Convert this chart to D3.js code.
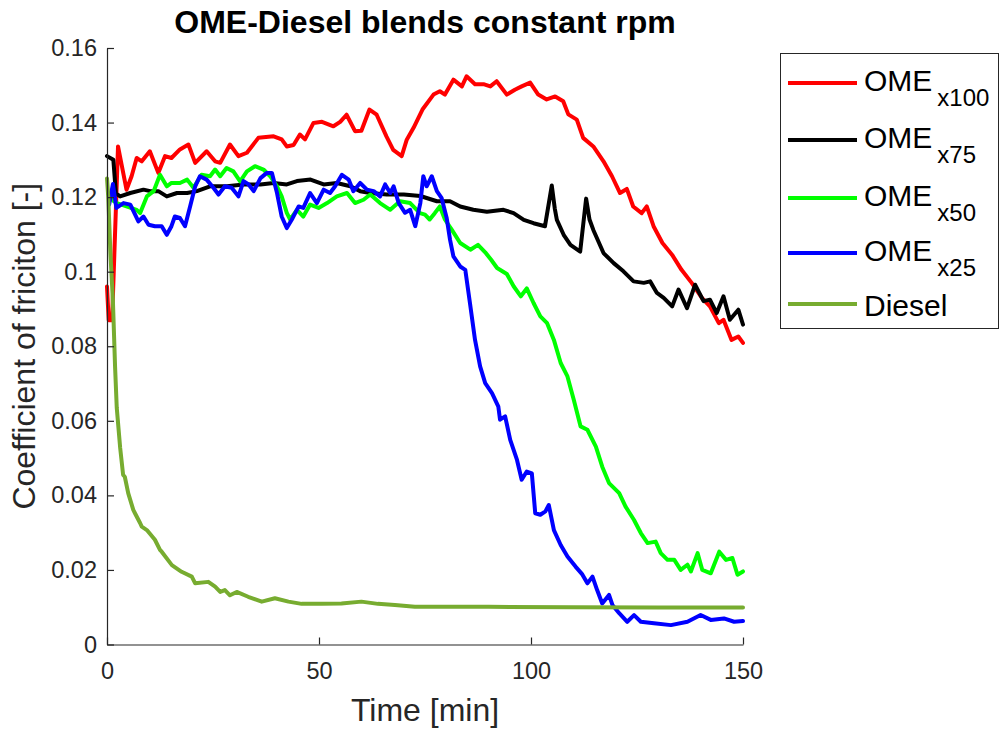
<!DOCTYPE html>
<html>
<head>
<meta charset="utf-8">
<script src="https://cdn.jsdelivr.net/npm/d3@7"></script>
<style>
  html, body { margin: 0; padding: 0; background: #fff; }
  svg { display: block; font-family: "Liberation Sans", Arial, Helvetica, sans-serif; }
</style>
</head>
<body>
<svg id="chart" width="1000" height="729"></svg>
<script>
// Coefficient of friction over time, [minutes, COF] pairs per blend
const ome100 = [[0,0.096],[0.4,0.087],[1.2,0.087],[2.6,0.1336],[4.6,0.122],[5.8,0.1256],[7.0,0.1305],[8.2,0.1296],[10.1,0.1323],[12.1,0.1265],[13.7,0.131],[15.2,0.1305],[17.2,0.1328],[19.2,0.1341],[20.8,0.1292],[23.5,0.1323],[25.5,0.1296],[26.7,0.1292],[29.0,0.1341],[31.0,0.131],[33.0,0.1319],[35.7,0.1359],[39.3,0.1363],[41.2,0.1355],[42.4,0.1336],[44.0,0.134],[45.5,0.1368],[46.7,0.1355],[48.7,0.1399],[50.7,0.1402],[53.4,0.139],[55.0,0.1402],[56.5,0.1421],[58.5,0.1377],[60.0,0.1378],[61.9,0.1435],[63.6,0.1421],[65.9,0.1363],[67.5,0.1327],[69.5,0.131],[70.7,0.1354],[72.3,0.1386],[74.4,0.1435],[77.0,0.1475],[78.5,0.1484],[79.7,0.1475],[81.7,0.1515],[83.7,0.1497],[84.8,0.1524],[86.8,0.1503],[88.8,0.1503],[90.4,0.1497],[91.9,0.1511],[94.3,0.1475],[96.2,0.1488],[97.8,0.1497],[99.8,0.1507],[101.7,0.1475],[103.7,0.1462],[105.7,0.147],[107.6,0.1457],[108.8,0.1422],[110.8,0.1408],[112.3,0.1359],[114.7,0.1336],[117.1,0.1296],[119.1,0.1256],[121.0,0.1211],[122.6,0.1222],[124.1,0.1175],[126.1,0.1157],[127.3,0.1175],[128.9,0.1122],[131.0,0.1077],[133.3,0.1045],[135.5,0.1005],[137.9,0.097],[140.3,0.093],[142.2,0.0907],[144.3,0.0862],[145.4,0.0871],[147.3,0.0817],[148.9,0.0826],[150,0.0809]];

const ome75 = [[0,0.131],[1.5,0.130],[2.1,0.121],[3.1,0.1202],[5.5,0.1211],[8.6,0.122],[10.2,0.1216],[12.1,0.1216],[14.1,0.1202],[16.5,0.1211],[18.9,0.1211],[21.2,0.1216],[24.3,0.1229],[28.3,0.1229],[32.2,0.1234],[36.2,0.1234],[39.3,0.1238],[42.4,0.1234],[44.8,0.1243],[48.0,0.1247],[51.1,0.1234],[54.2,0.1238],[57.4,0.1229],[59.7,0.1216],[62.1,0.1211],[66.0,0.1207],[70.0,0.1207],[73.9,0.1203],[77.8,0.1189],[80.9,0.1189],[83.3,0.1175],[86.4,0.1166],[89.6,0.1161],[93.5,0.1166],[95.9,0.1157],[98.3,0.1139],[100.6,0.113],[103.3,0.1122],[104.9,0.1231],[105.6,0.117],[106.1,0.1139],[107.7,0.1099],[109.3,0.1072],[111.6,0.1054],[113.0,0.1196],[113.8,0.114],[114.7,0.1112],[117.1,0.105],[119.5,0.1023],[121.8,0.1001],[124.2,0.0974],[126.6,0.097],[128.1,0.0974],[129.7,0.0943],[131.3,0.093],[133.3,0.0907],[134.8,0.0952],[136.8,0.0902],[138.7,0.0965],[140.7,0.0921],[142.2,0.0925],[143.8,0.0889],[145.4,0.0934],[146.9,0.0871],[148.9,0.0898],[150,0.0858]];

const ome50 = [[0.3,0.121],[1.5,0.119],[2.3,0.1184],[4.6,0.1175],[7.0,0.1166],[7.8,0.1157],[9.4,0.1202],[11.0,0.1216],[12.5,0.126],[14.1,0.1229],[15.2,0.1238],[17.2,0.1238],[18.9,0.1247],[20.4,0.1225],[22.3,0.126],[24.3,0.1256],[25.5,0.1274],[26.7,0.1256],[28.2,0.1278],[29.8,0.1269],[31.4,0.1242],[33.0,0.1269],[34.9,0.1283],[36.9,0.1274],[38.5,0.1256],[40.1,0.1229],[41.2,0.1202],[42.4,0.1158],[43.2,0.114],[44.8,0.1166],[46.3,0.1148],[47.9,0.118],[49.9,0.1171],[51.9,0.1184],[54.2,0.1202],[56.6,0.1211],[58.5,0.1184],[60.5,0.1193],[62.1,0.1207],[64.4,0.1184],[66.8,0.1166],[69.1,0.1189],[71.5,0.1184],[73.8,0.1157],[75.0,0.1153],[76.1,0.114],[77.3,0.1157],[78.5,0.1175],[79.7,0.114],[81.3,0.1113],[83.3,0.1077],[85.7,0.1059],[87.5,0.1072],[89.2,0.1052],[90.6,0.1032],[92.0,0.101],[94.3,0.0994],[95.9,0.0961],[97.6,0.0934],[99.0,0.0955],[100.6,0.0916],[102.2,0.088],[103.8,0.0862],[105.4,0.0817],[107.0,0.0755],[108.6,0.0719],[110.1,0.0656],[111.7,0.0585],[113.3,0.0576],[115.3,0.0531],[116.8,0.0477],[118.4,0.0433],[120.8,0.0406],[122.3,0.037],[124.3,0.0334],[125.9,0.0299],[127.5,0.0272],[129.4,0.0276],[130.6,0.0245],[132.2,0.0227],[133.8,0.0227],[135.3,0.02],[136.9,0.0214],[137.7,0.0196],[139.3,0.0245],[140.4,0.02],[142.4,0.0191],[144.4,0.0249],[146.0,0.0227],[147.5,0.0232],[148.7,0.0187],[150,0.0196]];

const ome25 = [[0.5,0.118],[1.4,0.1235],[2.2,0.1171],[3.9,0.1184],[5.5,0.118],[7.4,0.1135],[8.6,0.1148],[9.8,0.1126],[11.3,0.1122],[12.9,0.1122],[14.1,0.1099],[15.2,0.1122],[16.0,0.1148],[17.2,0.1144],[18.4,0.1122],[19.6,0.1175],[20.8,0.1229],[21.9,0.1256],[23.5,0.1247],[25.1,0.1225],[26.3,0.1207],[27.8,0.1229],[29.4,0.1225],[31.0,0.1202],[32.2,0.1243],[33.4,0.1234],[34.6,0.1216],[36.2,0.1251],[37.7,0.1265],[38.9,0.1265],[40.1,0.1211],[41.2,0.1148],[42.4,0.1117],[43.6,0.114],[45.2,0.1175],[46.3,0.1171],[47.9,0.1211],[49.5,0.1184],[51.1,0.122],[52.6,0.1211],[53.8,0.1229],[55.4,0.126],[57.0,0.1247],[58.1,0.1216],[59.7,0.1238],[61.3,0.122],[62.9,0.1216],[64.4,0.1202],[65.6,0.1234],[66.8,0.1211],[67.6,0.1229],[68.8,0.1184],[70.3,0.1158],[71.5,0.1166],[72.7,0.1122],[73.9,0.1184],[74.6,0.1256],[75.4,0.1229],[76.6,0.1256],[77.8,0.1216],[78.9,0.1198],[80.1,0.1145],[80.9,0.1086],[81.7,0.1041],[83.3,0.1014],[84.5,0.1005],[85.6,0.0916],[86.8,0.0817],[88.0,0.0746],[89.2,0.0701],[90.8,0.0674],[92.3,0.0638],[92.7,0.0603],[93.9,0.0612],[95.1,0.0549],[96.7,0.0495],[97.8,0.0442],[99.0,0.0464],[100.2,0.0459],[101.0,0.0352],[102.2,0.0348],[103.4,0.0357],[104.2,0.0374],[105.4,0.0307],[107.0,0.0267],[108.6,0.0236],[110.5,0.0209],[112.1,0.0188],[113.3,0.0164],[114.5,0.0182],[115.6,0.0146],[116.8,0.011],[118.4,0.0133],[119.2,0.0106],[120.8,0.0084],[122.7,0.0061],[124.3,0.0079],[125.9,0.0061],[129.0,0.0057],[133.0,0.0052],[136.9,0.0061],[140.0,0.0079],[142.4,0.0066],[145.5,0.007],[147.9,0.0061],[150,0.0063]];

const diesel = [[0,0.125],[0.3,0.12],[0.8,0.105],[1.4,0.092],[1.9,0.0746],[2.3,0.0635],[3.1,0.0528],[3.8,0.0455],[4.2,0.045],[5.0,0.0406],[6.2,0.0361],[6.6,0.0352],[7.8,0.0326],[8.2,0.0316],[9.4,0.0307],[11.3,0.0281],[12.5,0.0254],[12.9,0.0249],[15.3,0.0213],[17.6,0.0195],[20.0,0.0182],[20.8,0.0164],[23.9,0.0168],[25.5,0.0155],[26.7,0.0141],[27.8,0.0146],[29.0,0.0132],[30.6,0.0141],[33.3,0.0128],[36.5,0.0115],[39.6,0.0124],[42.8,0.0115],[45.9,0.0109],[50.6,0.0109],[55.3,0.011],[60.0,0.0115],[63.9,0.0109],[67.9,0.0106],[72.6,0.0101],[90,0.0101],[110,0.0100],[130,0.0099],[150,0.0099]];

// Legend labels: main text + subscript
const seriesNames = ["OME", "OME", "OME", "OME", "Diesel"];
const seriesSubs = ["x100", "x75", "x50", "x25", ""];
const seriesColors = ["#ff0000", "#000000", "#00ff00", "#0000ff", "#77ac30"];
const seriesData = [ome100, ome75, ome50, ome25, diesel];

const xTicks = [0, 50, 100, 150];
const yTicks = [0, 0.02, 0.04, 0.06, 0.08, 0.1, 0.12, 0.14, 0.16];
const yTickLabels = ["0", "0.02", "0.04", "0.06", "0.08", "0.1", "0.12", "0.14", "0.16"];

const titleText = "OME-Diesel blends constant rpm";
const xLabelText = "Time [min]";
const yLabelText = "Coefficient of friciton [-]";

const svg = d3.select("#chart");
const axisColor = "#262626";

const x = d3.scaleLinear().domain([0, 150]).range([107, 743]);
const y = d3.scaleLinear().domain([0, 0.16]).range([644.5, 48]);

// Series lines
const line = d3.line().x(d => x(d[0])).y(d => y(d[1]));
svg.append("g").selectAll("path")
  .data(seriesData)
  .join("path")
  .attr("d", line)
  .attr("fill", "none")
  .attr("stroke", (d, i) => seriesColors[i])
  .attr("stroke-width", 4)
  .attr("stroke-linejoin", "round")
  .attr("stroke-linecap", "round");

// Axes
const xAxis = d3.axisBottom(x)
  .tickValues(xTicks)
  .tickFormat(d3.format("d"))
  .tickSizeInner(-7)
  .tickSizeOuter(0)
  .tickPadding(18);
const gx = svg.append("g").attr("transform", `translate(0,${y(0)})`).call(xAxis);

const yAxis = d3.axisLeft(y)
  .tickValues(yTicks)
  .tickFormat((d, i) => yTickLabels[i])
  .tickSizeInner(-7)
  .tickSizeOuter(0)
  .tickPadding(10);
const gy = svg.append("g").attr("transform", `translate(${x(0)},0)`).call(yAxis);

[gx, gy].forEach(g => {
  g.select(".domain").attr("stroke", axisColor).attr("stroke-width", 1.2);
  g.selectAll(".tick line").attr("stroke", axisColor).attr("stroke-width", 1.2);
  g.selectAll(".tick text")
    .attr("fill", axisColor)
    .style("font-size", "23.5px")
    .style("font-family", "'Liberation Sans', Arial, Helvetica, sans-serif");
});

// Title
svg.append("text")
  .attr("x", (x.range()[0] + x.range()[1]) / 2)
  .attr("y", 33)
  .attr("text-anchor", "middle")
  .attr("font-weight", "bold")
  .attr("font-size", 32)
  .attr("fill", "#000")
  .text(titleText);

// Axis labels
svg.append("text")
  .attr("x", (x.range()[0] + x.range()[1]) / 2)
  .attr("y", 721)
  .attr("text-anchor", "middle")
  .attr("font-size", 32)
  .attr("fill", axisColor)
  .text(xLabelText);

svg.append("text")
  .attr("transform", `translate(35,${(y.range()[0] + y.range()[1]) / 2}) rotate(-90)`)
  .attr("text-anchor", "middle")
  .attr("font-size", 32)
  .attr("fill", axisColor)
  .text(yLabelText);

// Legend
const legend = svg.append("g");
legend.append("rect")
  .attr("x", 780.5).attr("y", 53.5)
  .attr("width", 218).attr("height", 275)
  .attr("fill", "#fff")
  .attr("stroke", axisColor)
  .attr("stroke-width", 1);

const rowY = [83, 140, 198, 253, 304];
seriesNames.forEach((name, i) => {
  const g = legend.append("g");
  g.append("line")
    .attr("x1", 788).attr("x2", 857)
    .attr("y1", rowY[i]).attr("y2", rowY[i])
    .attr("stroke", seriesColors[i])
    .attr("stroke-width", 4);
  const hasSub = seriesSubs[i] !== "";
  const t = g.append("text")
    .attr("x", 864)
    .attr("y", rowY[i] + (hasSub ? 8 : 12))
    .attr("font-size", 30)
    .attr("fill", "#000");
  t.append("tspan").text(name);
  if (hasSub) {
    t.append("tspan")
      .attr("dx", 5)
      .attr("dy", 15)
      .attr("font-size", 24)
      .text(seriesSubs[i]);
  }
});
</script>
</body>
</html>
